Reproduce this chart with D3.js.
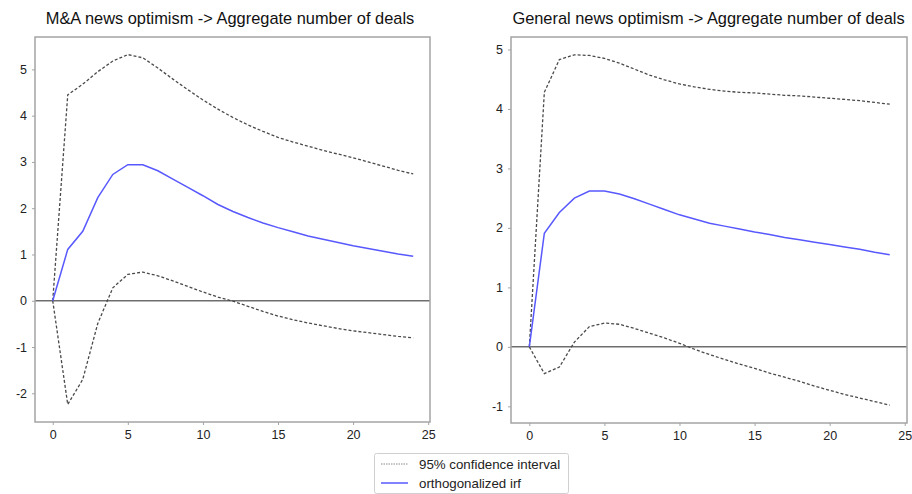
<!DOCTYPE html>
<html lang="en">
<head>
    <meta charset="UTF-8">
    <title>IRF panels</title>
    <script src="https://d3js.org/d3.v7.min.js"></script>
    <style>
        body { margin: 0; background: #fff; }
        svg { display: block; font-family: "Liberation Sans", Arial, sans-serif; }

        .frame {
            fill: none;
            stroke: #a4a4a4;
            stroke-width: 1.5px;
        }

        .zero {
            stroke: #6e6e6e;
            stroke-width: 1.5px;
        }

        .irf {
            fill: none;
            stroke: #5858ff;
            stroke-width: 1.5px;
        }

        .ci {
            fill: none;
            stroke: #4a4a4a;
            stroke-width: 1.3px;
            stroke-dasharray: 3 2;
        }

        .axis path { display: none; }
        .axis line { stroke: #a4a4a4; }
        .axis text { font-size: 12.5px; fill: #222; }

        .title { font-size: 16.4px; fill: #111; }
        .legend text { font-size: 13.3px; fill: #222; }
    </style>
</head>
<body>
    <svg width="912" height="494"></svg>

    <script>
        // horizon 0..24
        const steps = d3.range(0, 25);
        const xTicks = [0, 5, 10, 15, 20, 25];

        // left panel: M&A news optimism
        const maIrf = [0, 1.11, 1.50, 2.23, 2.73, 2.94, 2.94, 2.81, 2.63, 2.45, 2.27, 2.08, 1.93,
            1.80, 1.68, 1.58, 1.49, 1.40, 1.33, 1.26, 1.19, 1.13, 1.07, 1.01, 0.96];
        const maUpper = [0, 4.45, 4.68, 4.95, 5.18, 5.32, 5.25, 5.03, 4.79, 4.56, 4.34, 4.14, 3.96,
            3.80, 3.66, 3.53, 3.43, 3.34, 3.25, 3.17, 3.09, 3.00, 2.91, 2.82, 2.74];
        const maLower = [0, -2.24, -1.70, -0.49, 0.28, 0.57, 0.62, 0.54, 0.43, 0.31, 0.19, 0.08, -0.01,
            -0.12, -0.23, -0.33, -0.41, -0.48, -0.54, -0.60, -0.65, -0.69, -0.73, -0.77, -0.80];
        const maYTicks = [-2, -1, 0, 1, 2, 3, 4, 5];

        // right panel: general news optimism
        const genIrf = [0, 1.91, 2.26, 2.50, 2.62, 2.62, 2.57, 2.49, 2.40, 2.31, 2.22, 2.15, 2.08,
            2.03, 1.98, 1.93, 1.89, 1.84, 1.80, 1.76, 1.72, 1.68, 1.64, 1.59, 1.55];
        const genUpper = [0, 4.28, 4.83, 4.91, 4.90, 4.85, 4.77, 4.67, 4.57, 4.49, 4.42, 4.37, 4.33,
            4.30, 4.28, 4.27, 4.25, 4.23, 4.22, 4.20, 4.18, 4.16, 4.14, 4.11, 4.08];
        const genLower = [0, -0.45, -0.34, 0.08, 0.34, 0.40, 0.38, 0.31, 0.23, 0.15, 0.06, -0.04, -0.13,
            -0.21, -0.29, -0.36, -0.44, -0.51, -0.58, -0.66, -0.73, -0.80, -0.86, -0.92, -0.98];
        const genYTicks = [-1, 0, 1, 2, 3, 4, 5];

        const titles = [
            'M&A news optimism -> Aggregate number of deals',
            'General news optimism -> Aggregate number of deals'
        ];
        const legendLabels = ['95% confidence interval', 'orthogonalized irf'];

        const svg = d3.select('svg');

        const panels = [
            { title: titles[0], irf: maIrf, upper: maUpper, lower: maLower, yTicks: maYTicks, titleX: 230,
              box: { x0: 35, x1: 430, y0: 37, y1: 422 }, xDom: [-1.18, 25.12], yDom: [-2.62, 5.70] },
            { title: titles[1], irf: genIrf, upper: genUpper, lower: genLower, yTicks: genYTicks, titleX: 708.5,
              box: { x0: 511, x1: 907, y0: 37, y1: 423 }, xDom: [-1.22, 25.15], yDom: [-1.28, 5.21] }
        ];

        const fmt = d => String(d);   // plain hyphen for negatives

        panels.forEach(p => {
            const g = svg.append('g');
            const x = d3.scaleLinear().domain(p.xDom).range([p.box.x0, p.box.x1]);
            const y = d3.scaleLinear().domain(p.yDom).range([p.box.y1, p.box.y0]);

            g.append('text')
                .attr('class', 'title')
                .attr('x', p.titleX)
                .attr('y', 24)
                .attr('text-anchor', 'middle')
                .text(p.title);

            // zero line
            g.append('line')
                .attr('class', 'zero')
                .attr('x1', p.box.x0).attr('x2', p.box.x1)
                .attr('y1', y(0)).attr('y2', y(0));

            const line = d3.line()
                .x((d, i) => x(steps[i]))
                .y(d => y(d));

            g.append('path').attr('class', 'ci').attr('d', line(p.upper));
            g.append('path').attr('class', 'ci').attr('d', line(p.lower));
            g.append('path').attr('class', 'irf').attr('d', line(p.irf));

            g.append('rect')
                .attr('class', 'frame')
                .attr('x', p.box.x0).attr('y', p.box.y0)
                .attr('width', p.box.x1 - p.box.x0)
                .attr('height', p.box.y1 - p.box.y0);

            g.append('g')
                .attr('class', 'axis')
                .attr('transform', `translate(0, ${p.box.y1})`)
                .call(d3.axisBottom(x).tickValues(xTicks).tickFormat(fmt).tickSize(3).tickPadding(5));

            g.append('g')
                .attr('class', 'axis')
                .attr('transform', `translate(${p.box.x0}, 0)`)
                .call(d3.axisLeft(y).tickValues(p.yTicks).tickFormat(fmt).tickSize(3).tickPadding(5));
        });

        // legend
        const legend = svg.append('g').attr('class', 'legend');
        legend.append('rect')
            .attr('x', 374.5).attr('y', 453.5)
            .attr('width', 194).attr('height', 40)
            .attr('rx', 2)
            .attr('fill', '#fff')
            .attr('stroke', '#d0d0d0');

        const items = legend.selectAll('.item')
            .data(legendLabels)
            .enter()
            .append('g')
            .attr('transform', (_, i) => `translate(381, ${464 + i * 19})`);

        items.append('line')
            .attr('x1', 0).attr('x2', 27)
            .attr('stroke', (d, i) => i === 0 ? '#8a8a8a' : '#5858ff')
            .attr('stroke-width', (d, i) => i === 0 ? 1 : 1.5)
            .attr('stroke-dasharray', (d, i) => i === 0 ? '1.5 1' : null);

        items.append('text')
            .attr('x', 38)
            .attr('dy', '0.35em')
            .text(d => d);
    </script>
</body>
</html>
